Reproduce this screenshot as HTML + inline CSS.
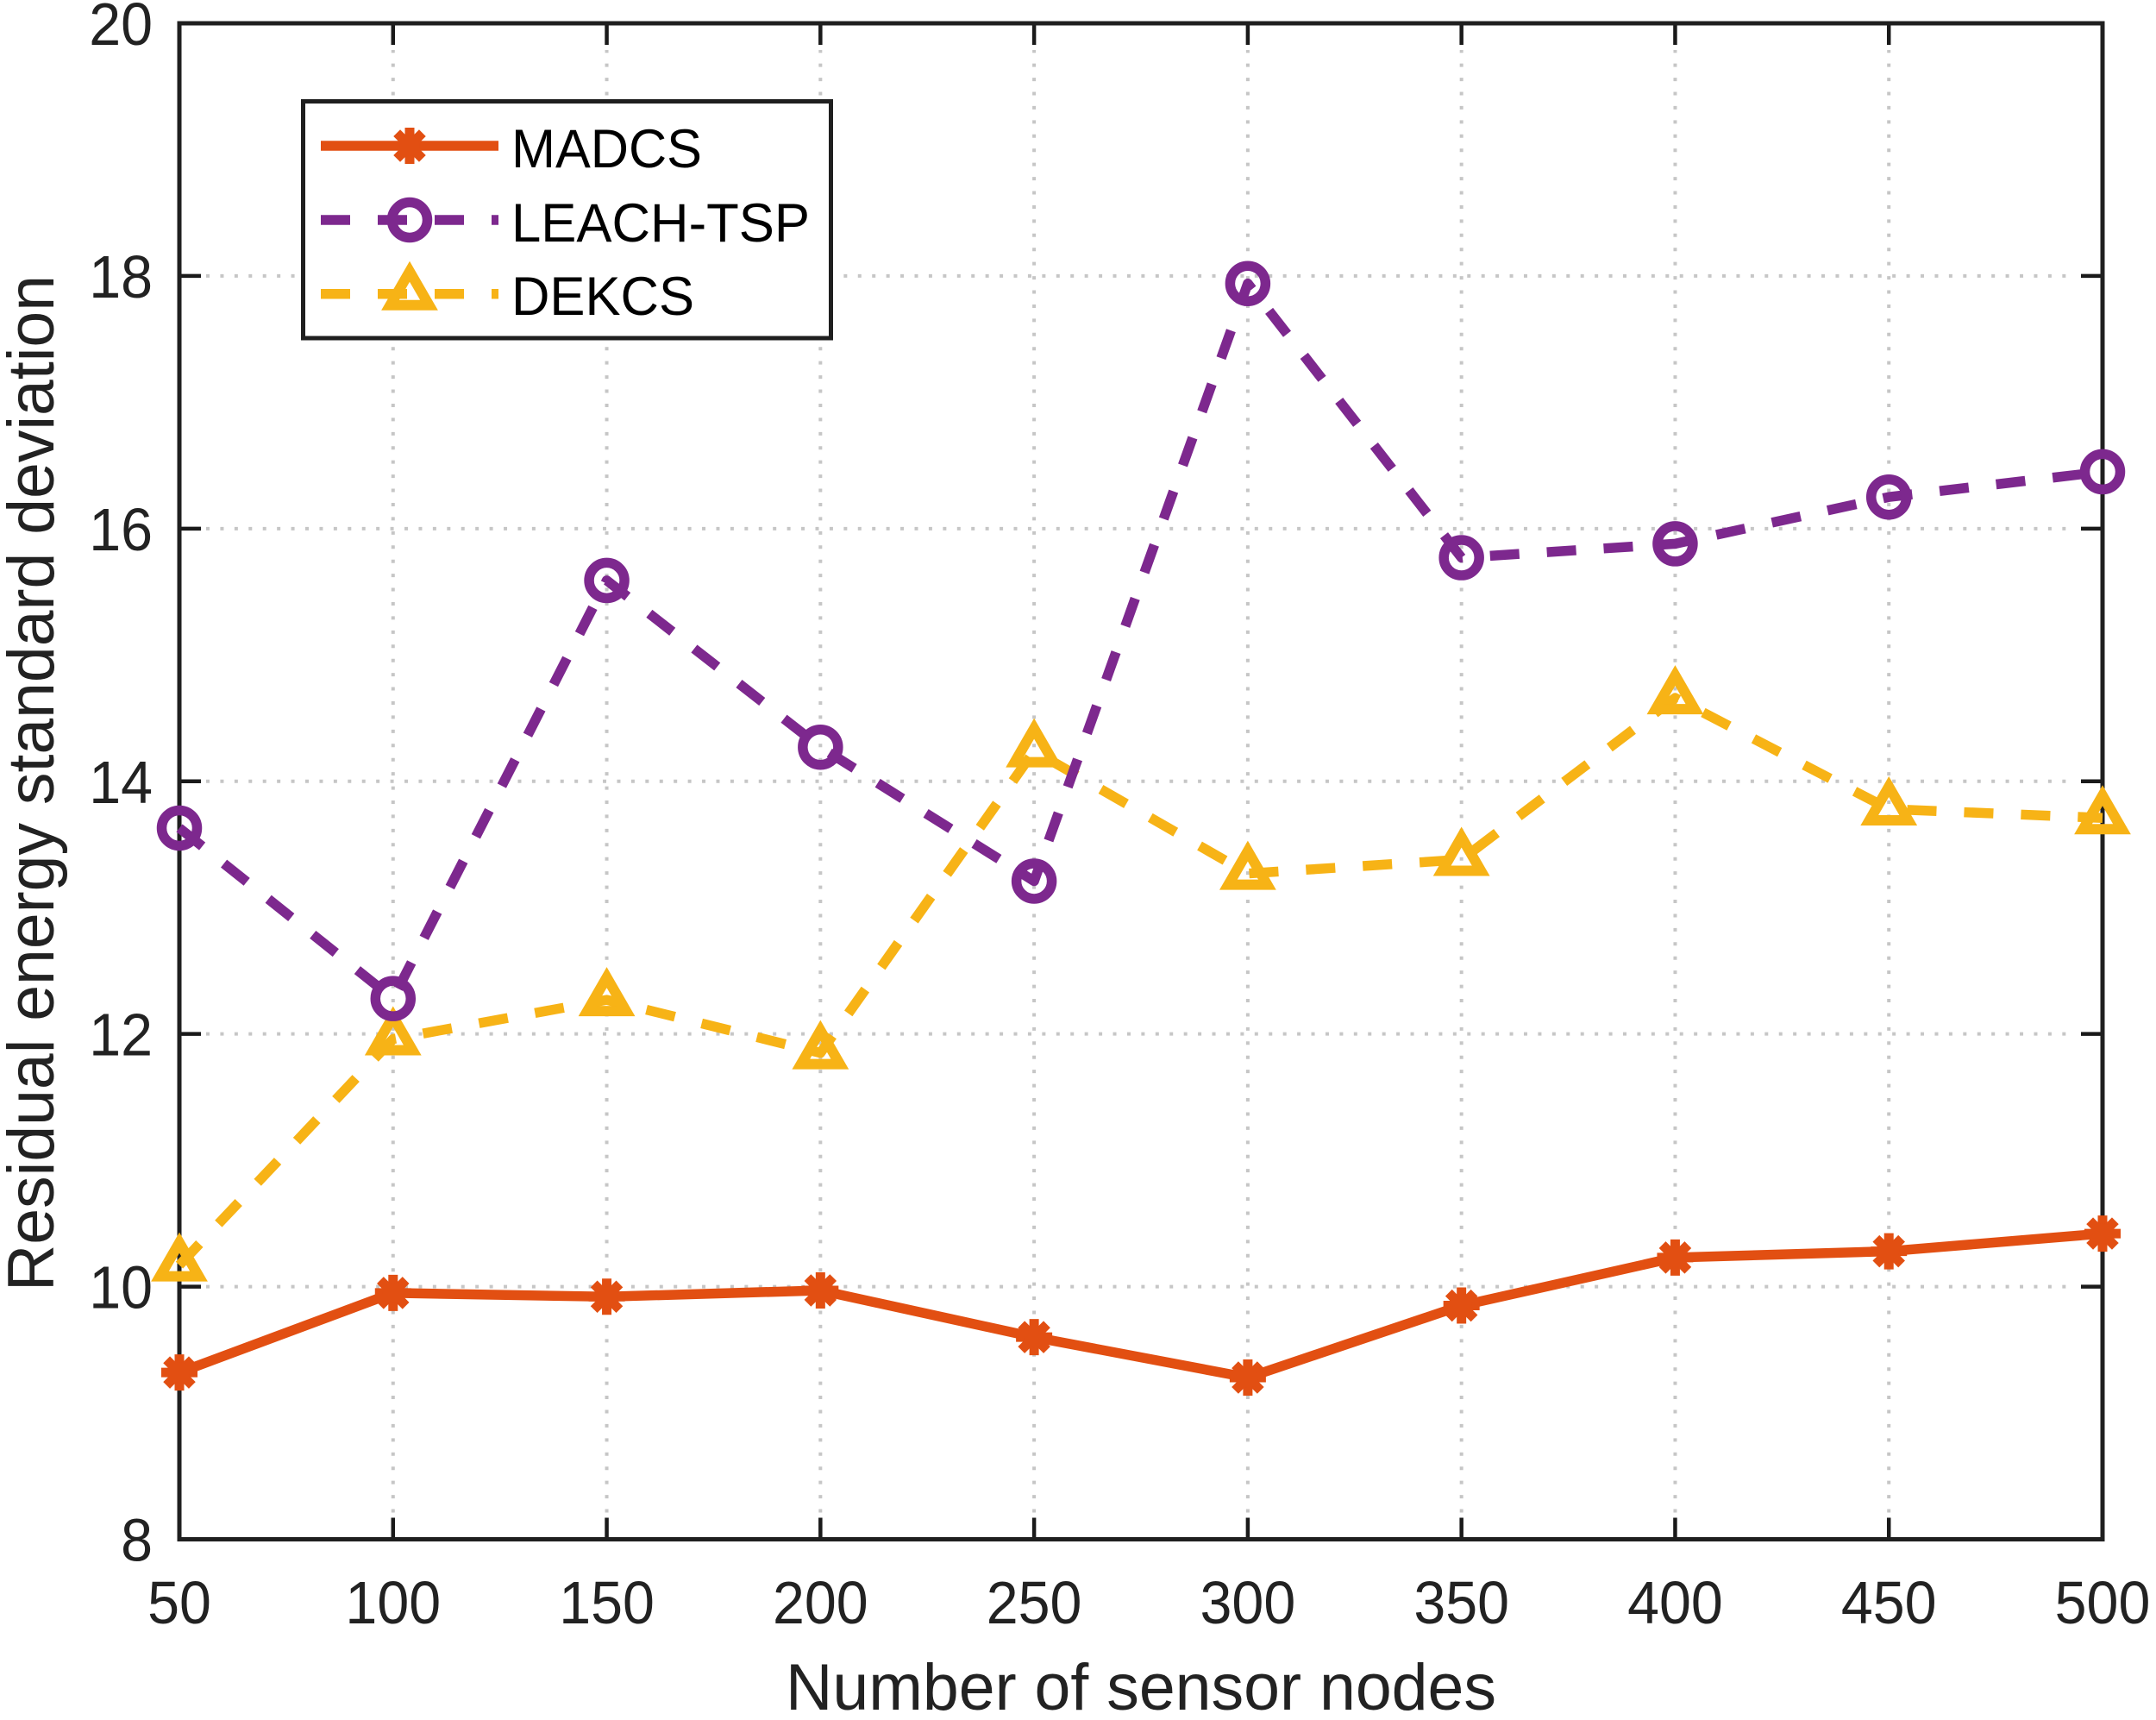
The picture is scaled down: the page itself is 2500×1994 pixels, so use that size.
<!DOCTYPE html>
<html lang="en">
<head>
<meta charset="utf-8">
<title>Residual energy standard deviation vs number of sensor nodes</title>
<style>
html,body{margin:0;padding:0;background:#fff;}
svg{display:block;font-family:"Liberation Sans",Arial,sans-serif;}
</style>
</head>
<body>
<svg id="chart" xmlns="http://www.w3.org/2000/svg" width="2500" height="1994" viewBox="0 0 2500 1994">
  <rect x="0" y="0" width="2500" height="1994" fill="#ffffff"/>
  <g id="grid"></g>
  <g id="ticks"></g>
  <rect x="208" y="27" width="2230" height="1757.5" fill="none" stroke="#1f1f1f" stroke-width="5"/>
  <g id="tick-labels"></g>
  <g id="series"></g>
  <text x="911" y="1982" font-size="76" fill="#222222" textLength="824" lengthAdjust="spacingAndGlyphs">Number of sensor nodes</text>
  <text transform="translate(62,1497) rotate(-90)" x="0" y="0" font-size="76" fill="#222222" textLength="1178" lengthAdjust="spacingAndGlyphs">Residual energy standard deviation</text>
  <g id="legend">
    <rect x="351.5" y="117.5" width="612" height="274.5" fill="#ffffff" stroke="#1f1f1f" stroke-width="5"/>
    <text x="593" y="194" font-size="63" fill="#000000" textLength="221" lengthAdjust="spacingAndGlyphs">MADCS</text>
    <text x="593" y="280" font-size="63" fill="#000000" textLength="346" lengthAdjust="spacingAndGlyphs">LEACH-TSP</text>
    <text x="593" y="365" font-size="63" fill="#000000" textLength="212" lengthAdjust="spacingAndGlyphs">DEKCS</text>
  </g>
</svg>
<script>
const nodeCounts = [50, 100, 150, 200, 250, 300, 350, 400, 450, 500];
const madcsValues = [9.32, 9.95, 9.92, 9.97, 9.60, 9.28, 9.85, 10.23, 10.28, 10.42];
const leachTspValues = [13.63, 12.28, 15.59, 14.27, 13.21, 17.94, 15.77, 15.88, 16.25, 16.45];
const dekcsValues = [10.17, 11.96, 12.27, 11.85, 14.24, 13.27, 13.38, 14.66, 13.78, 13.71];
const xTickLabels = [50, 100, 150, 200, 250, 300, 350, 400, 450, 500];
const yTickLabels = [8, 10, 12, 14, 16, 18, 20];

const NS = 'http://www.w3.org/2000/svg';
const plotLeft = 208, plotRight = 2438, plotTop = 27, plotBottom = 1784.5;
const xMin = 50, xMax = 500, yMin = 8, yMax = 20;
const tickLen = 25;
const digitWidth = 36.9;

function xScale(v) { return plotLeft + (v - xMin) / (xMax - xMin) * (plotRight - plotLeft); }
function yScale(v) { return plotBottom - (v - yMin) / (yMax - yMin) * (plotBottom - plotTop); }
function make(tag, attrs, parent) {
  const el = document.createElementNS(NS, tag);
  for (const k in attrs) el.setAttribute(k, attrs[k]);
  parent.appendChild(el);
  return el;
}

const gridLayer = document.getElementById('grid');
const tickLayer = document.getElementById('ticks');
const labelLayer = document.getElementById('tick-labels');
const seriesLayer = document.getElementById('series');
const legendLayer = document.getElementById('legend');

const gridStyle = { stroke: '#c6c6c6', 'stroke-width': 4, 'stroke-dasharray': '4 12.43', fill: 'none' };
const tickStyle = { stroke: '#1a1a1a', 'stroke-width': 4.5 };

xTickLabels.forEach(function (v) {
  const x = xScale(v);
  if (v !== xMin && v !== xMax) {
    const g = make('line', Object.assign({ x1: x, y1: plotBottom - tickLen - 6, x2: x, y2: plotTop + tickLen + 6 }, gridStyle), gridLayer);
    
    
    const t1 = make('line', Object.assign({ x1: x, y1: plotBottom, x2: x, y2: plotBottom - tickLen }, tickStyle), tickLayer);
    
    
    const t2 = make('line', Object.assign({ x1: x, y1: plotTop, x2: x, y2: plotTop + tickLen }, tickStyle), tickLayer);
    
    
  }
  const label = String(v);
  const lab = make('text', { x: x, y: 1882, 'text-anchor': 'middle', 'font-size': 70, fill: '#222222', textLength: label.length * digitWidth, lengthAdjust: 'spacingAndGlyphs' }, labelLayer);
  lab.textContent = label;
  
  
});

yTickLabels.forEach(function (v) {
  const y = yScale(v);
  if (v !== yMin && v !== yMax) {
    const g = make('line', Object.assign({ x1: plotLeft + tickLen + 6, y1: y, x2: plotRight - tickLen - 6, y2: y }, gridStyle), gridLayer);
    
    
    const t1 = make('line', Object.assign({ x1: plotLeft, y1: y, x2: plotLeft + tickLen, y2: y }, tickStyle), tickLayer);
    
    
    const t2 = make('line', Object.assign({ x1: plotRight, y1: y, x2: plotRight - tickLen, y2: y }, tickStyle), tickLayer);
    
    
  }
  const label = String(v);
  const lab = make('text', { x: 177, y: y + 25, 'text-anchor': 'end', 'font-size': 70, fill: '#222222', textLength: label.length * digitWidth, lengthAdjust: 'spacingAndGlyphs' }, labelLayer);
  lab.textContent = label;
  
  
});

function drawAsterisk(parent, x, y, color) {
  const g = make('g', { stroke: color, 'stroke-width': 11, fill: 'none' }, parent);
  
  
  const r = 21, d = 21 * Math.SQRT1_2;
  make('line', { x1: x - r, y1: y, x2: x + r, y2: y }, g);
  make('line', { x1: x, y1: y - r, x2: x, y2: y + r }, g);
  make('line', { x1: x - d, y1: y - d, x2: x + d, y2: y + d }, g);
  make('line', { x1: x - d, y1: y + d, x2: x + d, y2: y - d }, g);
  make('circle', { cx: x, cy: y, r: 12, fill: color, stroke: 'none' }, g);
}
function drawCircle(parent, x, y, color) {
  const c = make('circle', { cx: x, cy: y, r: 20.5, fill: 'none', stroke: color, 'stroke-width': 11.5 }, parent);
  
  
}
function drawTriangle(parent, x, y, color) {
  const pts = [[x, y - 26], [x + 22.5, y + 13], [x - 22.5, y + 13]].map(function (p) { return p.join(','); }).join(' ');
  const t = make('polygon', { points: pts, fill: 'none', stroke: color, 'stroke-width': 12, 'stroke-linejoin': 'miter', 'stroke-miterlimit': 10 }, parent);
  
  
}

function drawSeries(name, values, color, dash, marker) {
  const g = make('g', {}, seriesLayer);
  
  
  const pts = values.map(function (v, i) { return xScale(nodeCounts[i]) + ',' + yScale(v); }).join(' ');
  const line = make('polyline', { points: pts, fill: 'none', stroke: color, 'stroke-width': 11.5, 'stroke-linejoin': 'round' }, g);
  if (dash) line.setAttribute('stroke-dasharray', dash);
  
  
  values.forEach(function (v, i) { marker(g, xScale(nodeCounts[i]), yScale(v), color); });
}

const orange = '#e24f12', purple = '#7d288e', yellow = '#f7b316', dashPattern = '34 32';
drawSeries('dekcs', dekcsValues, yellow, dashPattern, drawTriangle);
drawSeries('leach-tsp', leachTspValues, purple, dashPattern, drawCircle);
drawSeries('madcs', madcsValues, orange, null, drawAsterisk);

function legendSample(name, y, color, dash, marker) {
  const l = make('line', { x1: 372, y1: y, x2: 578, y2: y, stroke: color, 'stroke-width': 11.5 }, legendLayer);
  if (dash) l.setAttribute('stroke-dasharray', dash);
  
  
  marker(legendLayer, 475, y, color);
}
legendSample('madcs', 169, orange, null, drawAsterisk);
legendSample('leach-tsp', 255, purple, dashPattern, drawCircle);
legendSample('dekcs', 340.7, yellow, dashPattern, drawTriangle);
</script>
</body>
</html>
